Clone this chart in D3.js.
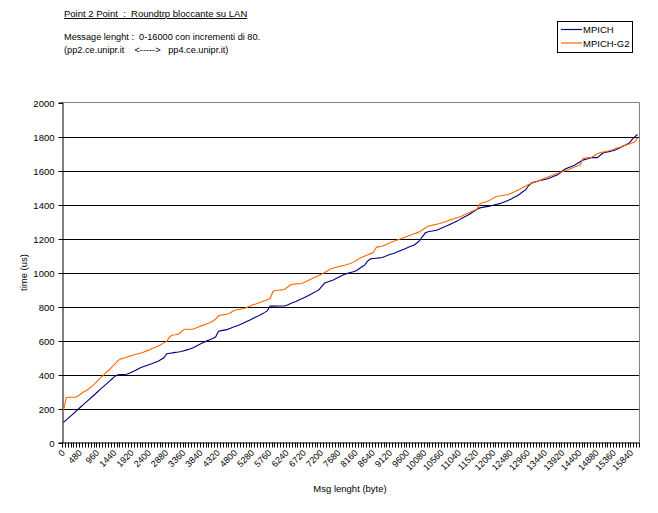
<!DOCTYPE html>
<html><head><meta charset="utf-8">
<script src="https://cdn.jsdelivr.net/npm/d3@7"></script>
<style>
html,body{margin:0;padding:0;background:#fff;}
svg{display:block;font-family:"Liberation Sans",Arial,sans-serif;}
text{white-space:pre;}
</style></head>
<body>
<svg id="c" width="658" height="513"></svg>
<script>
// ---- data ----
const msgSizes = d3.range(0, 16001, 80); // 201 categories: 0,80,...,16000
const seriesNames = ["MPICH", "MPICH-G2"];
const mpich = [118,133,148,163,178,194,209,224,239,254,269,284,300,315,330,345,360,375,390,
398,399,400,401,408,416,424,433,441,447,453,459,465,472,478,488,498,522,525,527,530,532,535,540,545,550,556,565,574,582,590,
598,605,612,620,655,658,661,664,671,678,684,690,697,705,713,721,730,738,746,755,764,774,802,802,802,803,803,803,809,816,
823,830,838,845,853,862,871,880,889,898,918,938,944,950,956,965,974,982,990,995,
1000,1004,1010,1022,1034,1045,1068,1080,1082,1084,1086,1088,1094,1101,1107,1112,1119,1126,1133,1140,1147,1154,1160,1172,1186,
1210,1232,1240,1243,1246,1249,1256,1263,1270,1278,1286,1294,1302,1311,1320,1329,1338,1349,1360,1371,1380,1383,1386,1389,1393,
1397,1401,1405,1412,1418,1425,1433,1442,1450,1462,1475,1486,1510,1526,1532,1536,1541,1545,1549,1553,1560,1567,1574,1585,1600,
1610,1617,1624,1631,1641,1651,1661,1666,1671,1676,1676,1676,1690,1703,1708,1711,1715,1719,1727,1735,1744,1752,1760,1780,1798,1812];
const mpichG2 = [188,265,266,266,266,272,285,297,306,318,332,348,365,382,398,414,428,446,462,482,492,497,502,508,513,518,522,527,532,539,
546,553,560,568,577,586,595,622,632,634,637,650,665,666,666,666,672,679,686,692,698,705,713,725,745,750,752,754,762,772,
779,782,785,788,795,803,810,815,821,828,834,840,847,888,894,896,898,900,913,926,931,933,934,935,943,952,959,967,975,983,
991,1000,1010,1020,1027,1031,1035,1039,1043,1048,1053,1061,1071,1083,1090,1097,1104,1111,1118,1148,1152,1154,1161,1169,1177,
1184,1190,1195,1202,1208,1215,1221,1227,1233,1239,1250,1262,1272,1276,1280,1284,1288,1293,1299,1305,1311,1316,1322,1327,1334,
1342,1349,1357,1365,1372,1402,1410,1415,1420,1430,1440,1449,1450,1453,1456,1459,1466,1474,1482,1490,1500,1509,1518,1524,1530,
1536,1543,1550,1557,1563,1569,1576,1582,1588,1594,1600,1606,1613,1620,1626,1632,1670,1673,1676,1678,1688,1698,1704,1708,1712,
1716,1721,1727,1733,1738,1744,1750,1756,1762,1768,1792];
const yTicks = [0,200,400,600,800,1000,1200,1400,1600,1800,2000];
const xLabelEvery = 6;
const titleLines = ["Point 2 Point  :  Roundtrp bloccante su LAN"];
const noteLines = ["Message lenght :  0-16000 con incrementi di 80.", "(pp2.ce.unipr.it    <----->   pp4.ce.unipr.it)"];
const colors = ["#000080", "#FF6600"];

// ---- layout ----
const svg = d3.select("#c");
const L = 62, R = 639, T = 102.5, B = 442.5;
const x = d3.scaleBand().domain(msgSizes).range([L, R]).padding(0);
const xc = d => x(d) + x.bandwidth() / 2;
const y = d3.scaleLinear().domain([0, 2000]).range([B, T]);

// gridlines
svg.append("g").selectAll("line").data(yTicks.filter(t => t > 0 && t < 2000)).join("line")
  .attr("x1", L).attr("x2", R).attr("y1", d => Math.round(y(d)) + 0.5).attr("y2", d => Math.round(y(d)) + 0.5)
  .attr("stroke", "#000").attr("stroke-width", 1);

// plot area border (top/right grey)
svg.append("path").attr("d", `M${L},${T}H${R + 0.5}V${B}`).attr("fill", "none").attr("stroke", "#808080").attr("stroke-width", 1);

// y axis
const yAxis = d3.axisLeft(y).tickValues(yTicks).tickSize(4).tickPadding(4).tickFormat(d3.format("d"));
const gy = svg.append("g").attr("transform", `translate(${L + 0.5},0)`).call(yAxis);
gy.select(".domain").attr("stroke", "#000");
gy.selectAll(".tick line").attr("stroke", "#000");
gy.selectAll(".tick").attr("transform", d => `translate(0,${Math.round(y(d)) + 0.5})`);
gy.selectAll("text").attr("font-size", "9.5px").attr("fill", "#000").attr("font-family", "Liberation Sans, Arial, sans-serif");

// x axis line
svg.append("line").attr("x1", L).attr("x2", R).attr("y1", B + 0.5).attr("y2", B + 0.5).attr("stroke", "#000");
// x ticks at category boundaries
const bounds = msgSizes.map(d => x(d)).concat([R]);
svg.append("g").selectAll("line").data(bounds).join("line")
  .attr("x1", d => Math.round(d) + 0.5).attr("x2", d => Math.round(d) + 0.5)
  .attr("y1", B).attr("y2", B + 5).attr("stroke", "#000");
// x labels
svg.append("g").selectAll("text").data(msgSizes.filter((d, i) => i % xLabelEvery === 0)).join("text")
  .attr("transform", d => `translate(${xc(d) + 2},${B + 11}) rotate(-45)`)
  .attr("text-anchor", "end").attr("font-size", "9px").attr("fill", "#000")
  .text(d => d);

// lines
const line = d3.line().x((d, i) => xc(msgSizes[i])).y(d => y(d));
[mpich, mpichG2].forEach((s, k) => {
  svg.append("path").datum(s).attr("d", line).attr("fill", "none")
    .attr("stroke", colors[k]).attr("stroke-width", 1.1);
});

// axis titles
svg.append("text").attr("transform", `translate(27,${(T + B) / 2}) rotate(-90)`).attr("text-anchor", "middle")
  .attr("font-size", "9.5px").text("time (us)");
svg.append("text").attr("x", 350).attr("y", 492).attr("text-anchor", "middle")
  .attr("font-size", "9.5px").text("Msg lenght (byte)");

// title + notes
svg.append("text").attr("x", 64).attr("y", 17).attr("font-size", "9.5px")
  .attr("text-decoration", "underline").text(titleLines[0]);
noteLines.forEach((t, i) => {
  svg.append("text").attr("x", 64).attr("y", 40 + i * 12.5).attr("font-size", "9.2px").text(t);
});

// legend
const lg = svg.append("g");
lg.append("rect").attr("x", 557.5).attr("y", 21.5).attr("width", 75).attr("height", 31)
  .attr("fill", "#fff").attr("stroke", "#000");
seriesNames.forEach((n, k) => {
  const yy = 29.5 + k * 13.5;
  lg.append("line").attr("x1", 561).attr("x2", 582).attr("y1", yy).attr("y2", yy).attr("stroke", colors[k]).attr("stroke-width", 1.2);
  lg.append("text").attr("x", 583).attr("y", yy + 3.5).attr("font-size", "9.5px").text(n);
});
</script>
</body></html>
